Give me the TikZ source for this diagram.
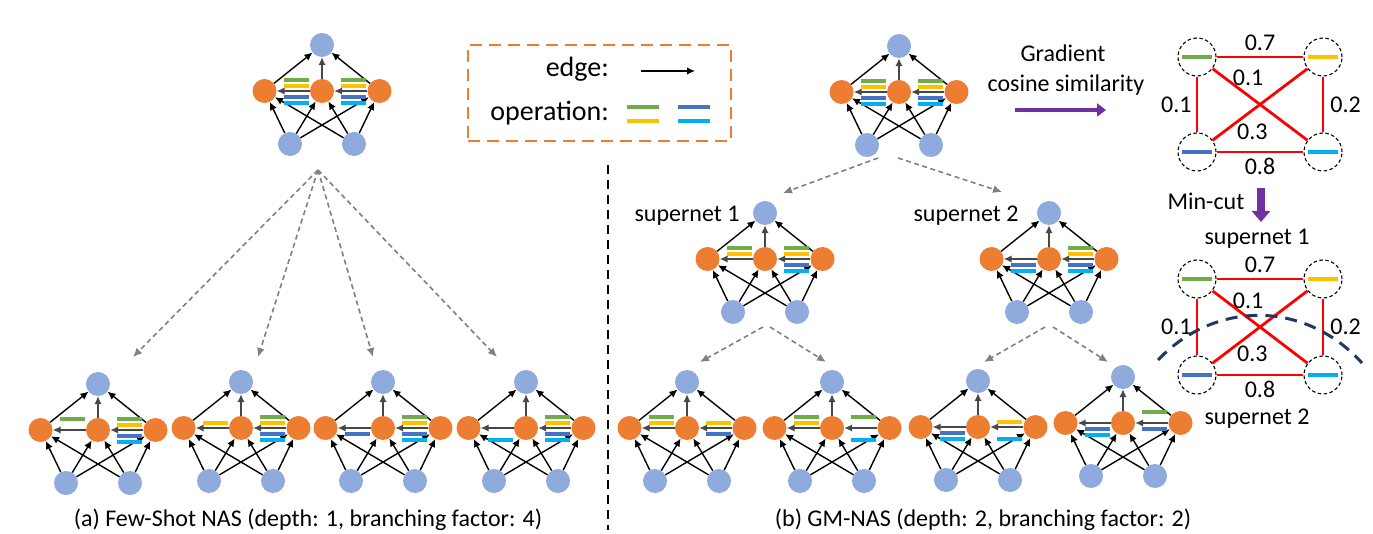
\documentclass[tikz,border=0pt]{standalone}
\usepackage{fontspec}
\setmainfont{Carlito}
\usetikzlibrary{arrows.meta}

\definecolor{nodeblue}{HTML}{8FAADC}
\definecolor{nodeorange}{HTML}{ED7D31}
\definecolor{opgreen}{HTML}{70AD47}
\definecolor{opyellow}{HTML}{FFC000}
\definecolor{opblue}{HTML}{4472C4}
\definecolor{opcyan}{HTML}{00B0F0}
\definecolor{cutpurple}{HTML}{7030A0}
\definecolor{cutnavy}{HTML}{1F3864}

\tikzset{
	bnode/.style={circle, fill=nodeblue, minimum size=24pt, inner sep=0pt},
	onode/.style={circle, fill=nodeorange, minimum size=24pt, inner sep=0pt},
	wire/.style={-{Latex[length=8pt,width=7.5pt]}, line width=1.4pt},
	midwire/.style={wire, draw=black!72, line width=2pt},
	opbar/.style={line width=3.5pt},
	opg/.style={draw=opgreen, yshift=11pt},
	opy/.style={draw=opyellow, yshift=5pt},
	opb/.style={draw=opblue, yshift=-6pt},
	opc/.style={draw=opcyan, yshift=-12pt},
	split/.style={-{Latex[length=9pt,width=8pt]}, draw=black!50, line width=1.6pt, dash pattern=on 5pt off 3.5pt},
	lbl/.style={font=\fontsize{24}{29}\selectfont, inner sep=0pt},
	leg/.style={font=\fontsize{28}{34}\selectfont, inner sep=0pt},
	num/.style={font=\fontsize{24}{29}\selectfont, inner sep=0pt},
	opcircle/.style={circle, draw, dash pattern=on 3.5pt off 2.5pt, line width=1.1pt, minimum size=38pt, inner sep=0pt},
	cutedge/.style={draw=red, line width=2.8pt},
	bigarrow/.style={draw=cutpurple, fill=cutpurple}
}

% one supernet: name, x, y of the middle node, ops left, ops right
\newcommand{\supcell}[5]{%
	\node[onode] (#1-m) at (#2,#3) {};
	\node[onode] (#1-l) at ({#2-57.5},#3) {};
	\node[onode] (#1-r) at ({#2+57.5},#3) {};
	\node[bnode] (#1-t) at (#2,{#3-46}) {};
	\node[bnode] (#1-a) at ({#2-32},{#3+53}) {};
	\node[bnode] (#1-b) at ({#2+32},{#3+53}) {};
	\draw[wire] (#1-l) -- (#1-t);
	\draw[wire] (#1-r) -- (#1-t);
	\draw[midwire] (#1-m) -- (#1-t);
	\draw[midwire] (#1-r) -- (#1-m);
	\draw[midwire] (#1-m) -- (#1-l);
	\foreach \s in {a,b}
		\foreach \d in {l,m,r}
			\draw[wire] (#1-\s) -- (#1-\d);
	\foreach \o in {#4}
		\draw[opbar,op\o] ({#2-38.5},#3) -- ++(25,0);
	\foreach \o in {#5}
		\draw[opbar,op\o] ({#2+18.5},#3) -- ++(25,0);
}

% similarity graph of the four ops: name, y of top row, y of bottom row
\newcommand{\opgraph}[3]{%
	\node[opcircle] (#1-g) at (1197,#2) {};
	\node[opcircle] (#1-y) at (1323,#2) {};
	\node[opcircle] (#1-b) at (1197,#3) {};
	\node[opcircle] (#1-c) at (1323,#3) {};
	\draw[opbar,draw=opgreen] ([xshift=-15pt]#1-g.center) -- ([xshift=15pt]#1-g.center);
	\draw[opbar,draw=opyellow] ([xshift=-15pt]#1-y.center) -- ([xshift=15pt]#1-y.center);
	\draw[opbar,draw=opblue] ([xshift=-15pt]#1-b.center) -- ([xshift=15pt]#1-b.center);
	\draw[opbar,draw=opcyan] ([xshift=-15pt]#1-c.center) -- ([xshift=15pt]#1-c.center);
	\draw[cutedge] (#1-g) -- node[num,above=5pt] {0.7} (#1-y);
	\draw[cutedge] (#1-g) -- node[num,left=4pt] {0.1} (#1-b);
	\draw[cutedge] (#1-y) -- node[num,right=6pt] {0.2} (#1-c);
	\draw[cutedge] (#1-b) -- node[num,below=5pt] {0.8} (#1-c);
	\draw[cutedge] (#1-g) -- node[num,pos=0.375,above=8pt] {0.1} (#1-c);
	\draw[cutedge] (#1-b) -- node[num,pos=0.42,below=12pt] {0.3} (#1-y);
}

\begin{document}
\begin{tikzpicture}[x=1pt, y=-1pt]
\useasboundingbox (0,0) rectangle (1373,534);

% (a) few-shot NAS
\supcell{A}{322}{91}{g,y,b,c}{g,y,b,c}
\supcell{a1}{98}{430}{g}{g,y,b,c}
\supcell{a2}{241}{428}{y}{g,y,b,c}
\supcell{a3}{383}{428}{b}{g,y,b,c}
\supcell{a4}{526}{428}{c}{g,y,b,c}

\coordinate (A-out) at (318,170);
\coordinate (a1-in) at (133,357);
\coordinate (a2-in) at (258,357);
\coordinate (a3-in) at (373,357);
\coordinate (a4-in) at (497,357);
\foreach \k in {1,...,4}
	\draw[split] (A-out) -- (a\k-in);

% legend
\node[draw=nodeorange, line width=2.5pt, dash pattern=on 12pt off 7pt,
	minimum width=263pt, minimum height=96pt] (legend) at (599.5,93) {};
\node[leg, anchor=base east] (edgetxt) at (609,77) {edge:};
\node[leg, anchor=base east] (optxt) at (609,121) {operation:};
\coordinate (edgeA) at (641,71);
\coordinate (edgeB) at (695,71);
\draw[wire] (edgeA) -- (edgeB);
\draw[opbar, line width=4pt, draw=opgreen] (627,107) -- (659,107);
\draw[opbar, line width=4pt, draw=opyellow] (627,121) -- (659,121);
\draw[opbar, line width=4pt, draw=opblue] (678,107) -- (710,107);
\draw[opbar, line width=4pt, draw=opcyan] (678,121) -- (710,121);

% separator
\draw[line width=1.5pt, dash pattern=on 9pt off 6pt] (608,165) -- (608,530);

% (b) GM-NAS
\supcell{B}{899}{92}{g,y,b,c}{g,y,b,c}
\supcell{s1}{765}{259}{g,y}{g,y,b,c}
\supcell{s2}{1049}{259}{b,c}{g,y,b,c}
\supcell{b1}{687}{428}{g,y}{y,b}
\supcell{b2}{832}{428}{g,y}{g,c}
\supcell{b3}{978}{427}{b,c}{y,c}
\supcell{b4}{1123}{423}{b,c}{g,b}

\node[lbl, anchor=base] (s1-name) at (687,222) {supernet 1};
\node[lbl, anchor=base] (s2-name) at (966,222) {supernet 2};

\coordinate (B-outl) at (878,158);
\coordinate (B-outr) at (898,158);
\coordinate (s1-in) at (783,193);
\coordinate (s2-in) at (1002,192);
\draw[split] (B-outl) -- (s1-in);
\draw[split] (B-outr) -- (s2-in);

\coordinate (s1-outl) at (763,327);
\coordinate (s1-outr) at (770,327);
\coordinate (b1-in) at (700,362);
\coordinate (b2-in) at (826,362);
\draw[split] (s1-outl) -- (b1-in);
\draw[split] (s1-outr) -- (b2-in);

\coordinate (s2-outl) at (1045,327);
\coordinate (s2-outr) at (1053,327);
\coordinate (b3-in) at (984,362);
\coordinate (b4-in) at (1108,362);
\draw[split] (s2-outl) -- (b3-in);
\draw[split] (s2-outr) -- (b4-in);

% gradient similarity and min-cut
\node[lbl, anchor=base] (gradtxt) at (1063,62) {Gradient};
\node[lbl, anchor=base] (costxt) at (1066,92) {cosine similarity};
\coordinate (simA) at (1015,110);
\coordinate (simB) at (1106,110);
\draw[bigarrow, line width=4.5pt, -{Triangle[length=9pt,width=13pt]}] (simA) -- (simB);

\opgraph{sim}{57}{152}

\node[lbl, anchor=base] (cuttxt) at (1206,210) {Min-cut};
\coordinate (cutA) at (1261,188);
\coordinate (cutB) at (1261,222);
\draw[bigarrow, line width=8pt, -{Triangle[length=11pt,width=18pt]}] (cutA) -- (cutB);

\node[lbl, anchor=base] (part1) at (1257,245) {supernet 1};
\opgraph{cut}{279}{375}
\node[lbl, anchor=base] (part2) at (1257,424) {supernet 2};
\draw[cutnavy, line width=3pt, dash pattern=on 12pt off 8pt]
	(1158,360) .. controls (1215,300) and (1305,300) .. (1362,363);

% captions
\node[lbl, anchor=base] (capa) at (308,526) {(a) Few-Shot NAS (depth: 1, branching factor: 4)};
\node[lbl, anchor=base] (capb) at (983,526) {(b) GM-NAS (depth: 2, branching factor: 2)};
\end{tikzpicture}
\end{document}
